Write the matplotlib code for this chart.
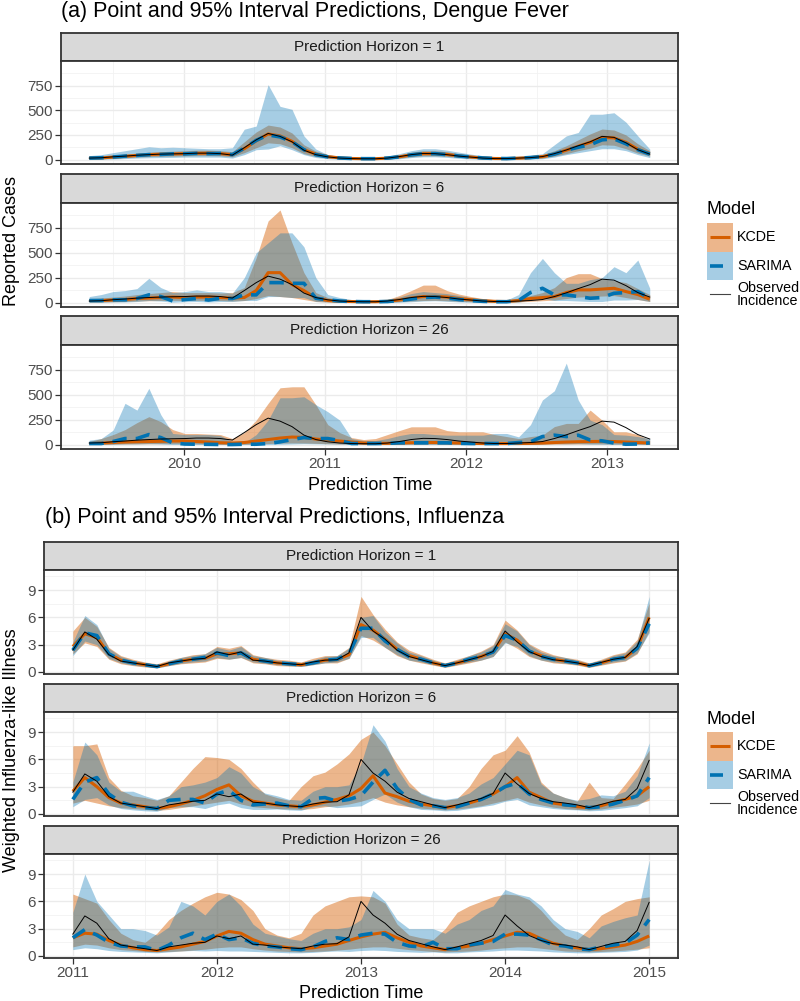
import numpy as np
import matplotlib
matplotlib.use('Agg')
import matplotlib.pyplot as plt
from matplotlib.patches import Rectangle

plt.rcParams['font.family'] = ['Liberation Sans', 'DejaVu Sans']

W, H = 800, 1001

# ---------------- dengue (about monthly, 2009.33 .. 2013.30)
dengue_obs = [15, 18, 28, 35, 44, 50, 55, 58, 60, 65, 65, 60,
              45, 120, 200, 265, 235, 180, 95, 50, 27, 15, 10, 8,
              8, 15, 30, 50, 62, 60, 50, 35, 25, 15, 10, 10,
              15, 20, 30, 60, 97, 140, 180, 235, 225, 170, 100, 55]

# horizon 1
dengue_kcde1_pt = [15, 17, 25, 33, 42, 50, 55, 57, 60, 63, 65, 60,
                   50, 110, 190, 260, 240, 185, 100, 55, 30, 17, 11, 9,
                   9, 14, 28, 48, 60, 60, 52, 37, 26, 16, 11, 10,
                   14, 20, 30, 55, 95, 135, 175, 225, 220, 175, 105, 60]
dengue_kcde1_lo = [5, 8, 12, 18, 25, 30, 33, 35, 38, 40, 40, 38,
                   28, 70, 120, 170, 160, 120, 60, 30, 15, 8, 5, 4,
                   4, 7, 15, 28, 38, 38, 32, 22, 14, 8, 5, 5,
                   7, 10, 15, 35, 60, 90, 115, 150, 145, 110, 65, 35]
dengue_kcde1_hi = [30, 32, 45, 55, 65, 75, 80, 85, 90, 95, 95, 90,
                   80, 180, 280, 350, 330, 270, 150, 85, 50, 30, 20, 17,
                   17, 25, 45, 75, 90, 90, 80, 60, 45, 30, 20, 20,
                   25, 35, 50, 90, 140, 200, 260, 310, 300, 250, 160, 90]
dengue_sarima1_pt = [15, 18, 26, 35, 42, 50, 52, 58, 58, 63, 60, 62,
                     50, 115, 195, 250, 230, 180, 100, 50, 28, 16, 11, 9,
                     9, 15, 28, 48, 60, 60, 50, 36, 26, 16, 11, 10,
                     15, 20, 30, 55, 95, 125, 150, 200, 210, 160, 100, 55]
dengue_sarima1_lo = [0, 2, 5, 10, 15, 18, 20, 22, 25, 25, 25, 25,
                     15, 50, 100, 107, 140, 100, 50, 20, 8, 2, 0, 0,
                     0, 2, 8, 20, 28, 28, 22, 12, 6, 2, 0, 0,
                     2, 5, 8, 25, 50, 70, 90, 110, 110, 90, 50, 20]
dengue_sarima1_hi = [40, 50, 70, 90, 110, 130, 120, 125, 120, 115, 110, 110,
                     120, 308, 340, 760, 540, 510, 240, 107, 50, 35, 25, 20,
                     20, 35, 60, 90, 110, 110, 95, 75, 55, 40, 28, 25,
                     35, 45, 60, 150, 240, 275, 460, 460, 475, 380, 240, 107]

# horizon 6
dengue_kcde6_pt = [20, 20, 25, 30, 40, 45, 50, 55, 50, 55, 55, 50,
                   45, 50, 120, 300, 300, 180, 120, 45, 20, 12, 10, 8,
                   8, 12, 25, 45, 60, 62, 55, 40, 28, 18, 12, 10,
                   20, 40, 50, 60, 100, 127, 127, 135, 143, 110, 80, 33]
dengue_kcde6_lo = [5, 5, 8, 10, 15, 18, 20, 22, 20, 22, 22, 20,
                   15, 20, 40, 70, 60, 50, 30, 10, 5, 3, 2, 2,
                   2, 3, 8, 15, 20, 22, 18, 12, 8, 5, 3, 3,
                   6, 12, 18, 25, 40, 55, 60, 65, 70, 50, 30, 10]
dengue_kcde6_hi = [40, 45, 55, 65, 80, 90, 100, 110, 100, 100, 100, 95,
                   100, 150, 450, 820, 930, 600, 300, 100, 50, 30, 20, 18,
                   18, 30, 70, 120, 175, 175, 120, 85, 60, 40, 28, 25,
                   45, 70, 100, 150, 250, 290, 290, 240, 220, 200, 140, 80]
dengue_sarima6_pt = [20, 20, 27, 27, 40, 77, 60, 15, 30, 40, 25, 43,
                     40, 77, 77, 200, 200, 193, 193, 43, 27, 15, 10, 8,
                     8, 10, 20, 35, 50, 55, 45, 30, 20, 12, 8, 8,
                     20, 100, 143, 77, 77, 60, 43, 50, 93, 100, 110, 43]
dengue_sarima6_lo = [2, 2, 5, 5, 10, 20, 15, 3, 8, 10, 5, 10,
                     10, 20, 20, 60, 60, 50, 50, 10, 5, 2, 0, 0,
                     0, 0, 3, 8, 15, 18, 12, 6, 3, 0, 0, 0,
                     3, 30, 40, 20, 20, 15, 10, 10, 25, 25, 30, 10]
dengue_sarima6_hi = [60, 80, 110, 120, 140, 243, 150, 100, 110, 127, 110, 110,
                     93, 250, 500, 600, 700, 700, 560, 250, 80, 50, 30, 25,
                     25, 30, 55, 90, 110, 100, 90, 70, 50, 35, 25, 25,
                     80, 300, 443, 300, 193, 193, 230, 250, 360, 300, 427, 143]

# horizon 26
dengue_kcde26_pt = [10, 15, 20, 25, 28, 30, 32, 35, 35, 30, 25, 18,
                    15, 20, 35, 50, 65, 75, 72, 55, 45, 35, 25, 15,
                    12, 12, 15, 18, 20, 20, 18, 15, 12, 10, 10, 10,
                    10, 12, 15, 20, 25, 28, 30, 32, 30, 25, 20, 15]
dengue_kcde26_lo = [0, 2, 3, 5, 6, 7, 8, 8, 8, 7, 5, 3,
                    2, 3, 6, 10, 14, 16, 15, 12, 8, 5, 3, 2,
                    1, 1, 2, 3, 4, 4, 3, 2, 1, 1, 1, 1,
                    1, 1, 2, 3, 4, 5, 6, 6, 5, 4, 3, 2]
dengue_kcde26_hi = [30, 60, 100, 150, 220, 280, 230, 150, 111, 111, 105, 100,
                    60, 120, 245, 414, 570, 580, 580, 400, 200, 120, 70, 50,
                    60, 100, 140, 178, 178, 178, 140, 128, 128, 128, 100, 80,
                    60, 80, 94, 180, 212, 212, 346, 245, 128, 128, 100, 44]
dengue_sarima26_pt = [10, 10, 30, 60, 60, 100, 70, 17, 5, 3, 2, 0,
                      0, 3, 3, 10, 27, 50, 70, 60, 60, 40, 10, 10,
                      10, 12, 17, 17, 17, 17, 17, 12, 10, 10, 10, 10,
                      20, 27, 80, 94, 80, 94, 45, 37, 15, 3, 5, 17]
dengue_sarima26_lo = [0, 0, 2, 5, 5, 8, 5, 0, 0, 0, 0, 0,
                      0, 0, 0, 0, 2, 5, 8, 6, 5, 3, 0, 0,
                      0, 0, 1, 1, 1, 1, 1, 0, 0, 0, 0, 0,
                      0, 1, 5, 8, 6, 8, 3, 2, 0, 0, 0, 0]
dengue_sarima26_hi = [44, 60, 145, 414, 346, 565, 300, 111, 100, 100, 100, 90,
                      27, 20, 100, 245, 470, 470, 480, 400, 330, 245, 60, 40,
                      40, 60, 90, 111, 111, 100, 94, 94, 94, 94, 111, 111,
                      77, 200, 448, 540, 818, 448, 245, 200, 100, 94, 80, 60]

# ---------------- influenza (monthly, 2011.0 .. 2015.0)
flu_obs = [2.4, 4.4, 3.6, 1.9, 1.2, 1.0, 0.8, 0.6, 1.0, 1.2, 1.4, 1.5,
           2.2, 1.9, 2.2, 1.3, 1.2, 1.0, 0.9, 0.8, 1.1, 1.3, 1.35, 2.1,
           6.0, 4.5, 3.6, 2.4, 1.7, 1.35, 1.0, 0.7, 1.0, 1.35, 1.7, 2.25,
           4.5, 3.3, 2.25, 1.7, 1.35, 1.2, 1.0, 0.7, 1.05, 1.4, 1.6, 2.8,
           5.9]

# horizon 1
flu_kcde1_pt = [2.8, 4.2, 3.8, 2.0, 1.3, 1.0, 0.8, 0.6, 0.9, 1.2, 1.4, 1.5,
                2.0, 2.0, 2.1, 1.4, 1.2, 1.0, 0.9, 0.8, 1.0, 1.3, 1.35, 1.9,
                5.2, 4.6, 3.6, 2.5, 1.8, 1.4, 1.0, 0.7, 1.0, 1.3, 1.7, 2.2,
                4.2, 3.5, 2.3, 1.8, 1.4, 1.2, 1.0, 0.7, 1.0, 1.4, 1.6, 2.6,
                6.0]
flu_kcde1_lo = [2.0, 3.2, 2.8, 1.4, 0.9, 0.7, 0.55, 0.45, 0.7, 0.9, 1.0, 1.1,
                1.5, 1.4, 1.6, 1.0, 0.9, 0.7, 0.65, 0.6, 0.8, 1.0, 1.0, 1.5,
                4.0, 3.5, 2.7, 1.8, 1.3, 1.0, 0.75, 0.5, 0.75, 1.0, 1.3, 1.7,
                3.3, 2.6, 1.7, 1.3, 1.0, 0.9, 0.75, 0.5, 0.75, 1.0, 1.2, 2.0,
                4.5]
flu_kcde1_hi = [4.5, 6.0, 5.0, 2.7, 1.8, 1.4, 1.1, 0.9, 1.3, 1.6, 1.9, 2.0,
                2.8, 2.6, 2.9, 1.9, 1.6, 1.4, 1.3, 1.1, 1.5, 1.8, 1.8, 2.7,
                8.3, 6.3, 4.7, 3.3, 2.4, 1.9, 1.4, 1.0, 1.4, 1.8, 2.3, 3.0,
                5.7, 4.6, 3.1, 2.4, 1.9, 1.6, 1.4, 1.0, 1.4, 1.9, 2.2, 3.6,
                7.6]
flu_sarima1_pt = [2.4, 4.3, 4.0, 2.0, 1.3, 1.0, 0.8, 0.6, 0.9, 1.2, 1.4, 1.6,
                  2.1, 1.8, 2.1, 1.4, 1.2, 1.0, 0.9, 0.8, 1.0, 1.3, 1.4, 2.0,
                  4.8, 4.8, 3.4, 2.5, 1.7, 1.4, 1.0, 0.7, 1.0, 1.4, 1.7, 2.2,
                  4.0, 3.5, 2.3, 1.7, 1.4, 1.2, 1.0, 0.7, 1.0, 1.4, 1.6, 2.6,
                  5.3]
flu_sarima1_lo = [1.8, 3.4, 3.0, 1.5, 1.0, 0.75, 0.6, 0.45, 0.7, 0.95, 1.1, 1.2,
                  1.6, 1.4, 1.6, 1.1, 0.95, 0.8, 0.7, 0.6, 0.8, 1.0, 1.1, 1.5,
                  3.8, 3.8, 2.7, 1.9, 1.3, 1.1, 0.8, 0.55, 0.8, 1.1, 1.3, 1.7,
                  3.2, 2.8, 1.8, 1.3, 1.1, 0.95, 0.8, 0.55, 0.8, 1.1, 1.25, 2.1,
                  4.3]
flu_sarima1_hi = [3.3, 6.2, 5.2, 2.6, 1.7, 1.3, 1.05, 0.8, 1.2, 1.6, 1.8, 2.0,
                  2.7, 2.4, 2.8, 1.8, 1.6, 1.3, 1.2, 1.05, 1.3, 1.7, 1.8, 2.6,
                  6.0, 6.2, 4.4, 3.2, 2.2, 1.8, 1.3, 0.95, 1.3, 1.8, 2.2, 2.9,
                  5.3, 4.5, 3.0, 2.2, 1.8, 1.6, 1.3, 0.95, 1.3, 1.8, 2.1, 3.4,
                  8.3]

# horizon 6
flu_kcde6_pt = [2.5, 4.0, 3.0, 1.8, 1.2, 1.0, 0.8, 0.6, 0.8, 1.1, 1.5, 2.0,
                2.7, 3.2, 2.0, 1.4, 1.2, 1.0, 0.9, 0.8, 1.0, 1.3, 1.6, 2.0,
                2.8, 4.2, 2.3, 1.9, 1.4, 1.1, 0.9, 0.7, 0.9, 1.2, 1.6, 2.2,
                3.0, 4.0, 2.4, 1.8, 1.2, 1.0, 0.8, 0.7, 0.9, 1.3, 1.6, 2.0,
                3.0]
flu_kcde6_lo = [1.2, 1.5, 1.2, 0.9, 0.7, 0.6, 0.5, 0.4, 0.5, 0.7, 0.9, 1.1,
                1.3, 1.5, 1.1, 0.8, 0.7, 0.6, 0.55, 0.5, 0.6, 0.8, 0.9, 1.1,
                1.4, 1.8, 1.3, 1.0, 0.8, 0.65, 0.55, 0.45, 0.55, 0.7, 0.9, 1.2,
                1.5, 1.8, 1.3, 1.0, 0.75, 0.6, 0.5, 0.45, 0.55, 0.75, 0.9, 1.1,
                1.5]
flu_kcde6_hi = [7.5, 7.5, 7.7, 4.0, 2.6, 2.0, 1.8, 1.5, 2.0, 3.5, 5.0, 6.3,
                6.2, 6.0, 5.0, 3.5, 2.2, 1.8, 1.5, 3.0, 4.2, 4.6, 5.5, 6.6,
                8.2, 9.0, 7.5, 5.5, 3.5, 2.2, 1.7, 1.5, 1.7, 3.0, 5.0, 6.5,
                7.0, 8.6, 6.8, 3.5, 2.3, 1.8, 1.4, 3.5, 1.8, 1.7, 3.3, 5.0,
                7.0]
flu_sarima6_pt = [1.6, 3.5, 4.0, 2.2, 1.3, 0.9, 0.7, 0.6, 1.5, 1.6, 1.6, 1.2,
                  2.2, 2.6, 1.5, 1.0, 1.1, 1.2, 0.9, 0.8, 1.7, 1.8, 1.4, 1.6,
                  2.0, 3.5, 4.8, 2.8, 1.6, 1.0, 0.9, 0.7, 0.8, 1.2, 1.6, 2.2,
                  3.0, 3.4, 2.2, 1.6, 1.2, 1.0, 0.9, 0.7, 0.8, 1.1, 1.5, 2.0,
                  4.0]
flu_sarima6_lo = [0.8, 1.6, 1.8, 1.0, 0.6, 0.45, 0.35, 0.3, 0.7, 0.8, 0.8, 0.6,
                  1.0, 1.2, 0.7, 0.5, 0.5, 0.55, 0.45, 0.4, 0.8, 0.9, 0.7, 0.8,
                  0.9, 1.6, 2.2, 1.3, 0.8, 0.5, 0.45, 0.35, 0.4, 0.6, 0.8, 1.0,
                  1.4, 1.6, 1.0, 0.8, 0.6, 0.5, 0.45, 0.35, 0.4, 0.55, 0.7, 0.9,
                  1.8]
flu_sarima6_hi = [3.5, 7.9, 6.5, 3.5, 2.5, 2.5, 2.0, 1.6, 2.0, 3.0, 3.2, 3.5,
                  4.0, 5.2, 4.5, 3.0, 2.3, 2.0, 1.6, 1.5, 2.5, 3.0, 3.0, 3.2,
                  5.5, 9.8, 8.0, 5.0, 3.0, 2.3, 1.8, 1.6, 1.8, 2.3, 3.3, 4.0,
                  5.5, 7.0, 6.5, 3.3, 2.3, 1.8, 1.5, 1.7, 2.1, 2.0, 2.5, 4.2,
                  7.8]

# horizon 26
flu_kcde26_pt = [2.0, 2.5, 2.4, 1.7, 1.2, 0.9, 0.7, 0.6, 0.8, 1.0, 1.3, 1.6,
                 2.2, 2.7, 2.5, 1.8, 1.3, 1.1, 0.9, 0.8, 0.9, 1.1, 1.3, 1.7,
                 2.1, 2.4, 2.6, 2.0, 1.5, 1.1, 0.9, 0.7, 0.9, 1.1, 1.4, 1.8,
                 2.2, 2.6, 2.5, 1.9, 1.4, 1.1, 0.9, 0.7, 0.8, 1.0, 1.2, 1.6,
                 2.2]
flu_kcde26_lo = [1.0, 1.3, 1.2, 0.9, 0.7, 0.6, 0.5, 0.45, 0.5, 0.55, 0.65, 0.75,
                 0.9, 1.0, 1.0, 0.8, 0.65, 0.55, 0.5, 0.45, 0.5, 0.55, 0.65, 0.75,
                 0.9, 1.0, 1.0, 0.85, 0.7, 0.6, 0.5, 0.45, 0.5, 0.55, 0.65, 0.8,
                 0.9, 1.0, 1.0, 0.85, 0.7, 0.55, 0.5, 0.45, 0.5, 0.55, 0.65, 0.75,
                 0.9]
flu_kcde26_hi = [6.8, 6.3, 5.8, 4.0, 2.5, 1.8, 1.5, 2.5, 4.0, 5.0, 5.8, 6.5,
                 7.0, 6.8, 6.2, 5.0, 3.0, 2.3, 2.0, 2.5, 4.5, 5.5, 6.0, 6.5,
                 6.6, 6.5, 5.8, 3.5, 2.3, 2.0, 1.8, 3.0, 4.8, 5.5, 6.0, 6.5,
                 6.8, 6.7, 6.2, 5.0, 3.5, 2.3, 1.8, 3.0, 4.5, 5.2, 6.0, 6.3,
                 6.5]
flu_sarima26_pt = [2.0, 2.9, 2.3, 1.5, 1.1, 1.0, 1.0, 0.6, 1.2, 2.0, 2.5, 1.8,
                   2.4, 1.8, 2.0, 1.4, 1.1, 1.0, 0.8, 0.7, 1.0, 1.6, 2.0, 1.8,
                   2.3, 2.5, 2.4, 1.5, 1.1, 1.0, 1.5, 0.8, 0.8, 1.2, 1.4, 1.6,
                   2.4, 2.4, 2.3, 1.8, 1.2, 1.1, 0.8, 0.7, 1.0, 1.2, 1.4, 2.3,
                   4.0]
flu_sarima26_lo = [0.7, 0.9, 0.8, 0.6, 0.5, 0.45, 0.4, 0.35, 0.45, 0.55, 0.6, 0.55,
                   0.6, 0.55, 0.55, 0.5, 0.45, 0.4, 0.35, 0.35, 0.4, 0.5, 0.55, 0.5,
                   0.6, 0.65, 0.6, 0.5, 0.45, 0.4, 0.45, 0.35, 0.35, 0.45, 0.5, 0.55,
                   0.65, 0.65, 0.6, 0.55, 0.45, 0.4, 0.35, 0.35, 0.4, 0.45, 0.5, 0.65,
                   1.2]
flu_sarima26_hi = [4.8, 9.0, 6.0, 4.5, 3.0, 3.0, 2.8, 2.3, 3.2, 6.0, 5.5, 4.5,
                   6.0, 6.8, 5.5, 3.5, 2.5, 2.2, 1.9, 1.7, 2.5, 3.0, 3.0, 3.2,
                   4.0, 7.2, 6.0, 4.0, 3.0, 3.0, 3.0, 2.5, 3.5, 4.0, 5.0, 5.5,
                   7.3, 6.8, 6.5, 5.5, 4.0, 3.0, 2.7, 2.0, 3.3, 3.8, 4.2, 4.5,
                   10.5]

horizons = [1, 6, 26]
dengue_time = np.linspace(2009.33, 2013.30, len(dengue_obs))
flu_time = np.linspace(2011.0, 2015.0, len(flu_obs))

KCDE_COL = '#D55E00'
SARIMA_COL = '#0072B2'
KCDE_ALPHA = 0.45
SARIMA_ALPHA = 0.35
BORDER = '#333333'


def px_axes(fig, left, top, right, bottom):
    # axes placed with pixel coordinates (origin top-left)
    return fig.add_axes([left / W, 1 - bottom / H, (right - left) / W, (bottom - top) / H])


def add_facet(fig, left, right, strip_top, top, bottom, horizon, t, obs, kcde, sarima,
              xlim, ylim, xmajor, xminor, ymajor, yminor, bottom_row):
    strip = px_axes(fig, left, strip_top, right, top)
    strip.set_facecolor('#D9D9D9')
    strip.set_xticks([])
    strip.set_yticks([])
    for s in strip.spines.values():
        s.set_color(BORDER)
        s.set_linewidth(1.3)
    strip.text(0.5, 0.5, 'Prediction Horizon = %d' % horizon, ha='center', va='center',
               fontsize=11, color='#1A1A1A', transform=strip.transAxes)

    ax = px_axes(fig, left, top, right, bottom)
    k_pt, k_lo, k_hi = kcde
    s_pt, s_lo, s_hi = sarima
    ax.fill_between(t, k_lo, k_hi, color=KCDE_COL, alpha=KCDE_ALPHA, linewidth=0)
    ax.fill_between(t, s_lo, s_hi, color=SARIMA_COL, alpha=SARIMA_ALPHA, linewidth=0)
    ax.plot(t, k_pt, color=KCDE_COL, lw=2.2, solid_capstyle='butt')
    ax.plot(t, s_pt, color=SARIMA_COL, lw=2.6, dashes=(4, 2.5))
    ax.plot(t, obs, color='black', lw=0.7)

    ax.set_xlim(*xlim)
    ax.set_ylim(*ylim)
    ax.set_xticks(xmajor)
    ax.set_xticks(xminor, minor=True)
    ax.set_yticks(ymajor)
    ax.set_yticks(yminor, minor=True)
    ax.set_axisbelow(True)
    ax.grid(which='major', color='#EBEBEB', lw=1.0)
    ax.grid(which='minor', color='#F2F2F2', lw=0.6)
    ax.tick_params(which='major', length=4, width=0.9, color=BORDER,
                   labelcolor='#4D4D4D', labelsize=11, pad=2)
    ax.tick_params(which='minor', length=0)
    ax.set_yticklabels([('%g' % v) for v in ymajor])
    if bottom_row:
        ax.set_xticklabels([str(int(v)) for v in xmajor])
    else:
        ax.tick_params(axis='x', which='major', length=0, labelbottom=False)
    for s in ax.spines.values():
        s.set_color(BORDER)
        s.set_linewidth(1.3)
    return ax


def add_legend(lax, x, title_y):
    lax.text(x, title_y, 'Model', fontsize=13, ha='left', va='center', color='black')
    key_w, key_h = 26, 28.5
    k_top = title_y + 13
    rows = [('KCDE', KCDE_COL, KCDE_ALPHA, 'solid'),
            ('SARIMA', SARIMA_COL, SARIMA_ALPHA, 'dash')]
    for i, (label, col, alpha, style) in enumerate(rows):
        y0 = k_top + i * key_h
        lax.add_patch(Rectangle((x, y0), key_w, key_h, facecolor=col, alpha=alpha, linewidth=0))
        ym = y0 + key_h / 2
        if style == 'solid':
            lax.plot([x + 3, x + key_w - 3], [ym, ym], color=col, lw=2.2, solid_capstyle='butt')
        else:
            lax.plot([x + 3, x + 16], [ym, ym], color=col, lw=2.6, solid_capstyle='butt')
        lax.text(x + key_w + 4, ym, label, fontsize=10.3, ha='left', va='center', color='black')
    ym = k_top + 2 * key_h + key_h / 2
    lax.plot([x + 3, x + key_w - 3], [ym, ym], color='#444444', lw=0.8)
    lax.text(x + key_w + 4, ym, 'Observed\nIncidence', fontsize=10.3, ha='left', va='center',
             color='black', linespacing=0.9)


fig = plt.figure(figsize=(W / 100, H / 100), dpi=100)

# ---------------- panel (a): dengue
dengue_sets = [
    (dengue_kcde1_pt, dengue_kcde1_lo, dengue_kcde1_hi),
    (dengue_kcde6_pt, dengue_kcde6_lo, dengue_kcde6_hi),
    (dengue_kcde26_pt, dengue_kcde26_lo, dengue_kcde26_hi),
]
dengue_sarima_sets = [
    (dengue_sarima1_pt, dengue_sarima1_lo, dengue_sarima1_hi),
    (dengue_sarima6_pt, dengue_sarima6_lo, dengue_sarima6_hi),
    (dengue_sarima26_pt, dengue_sarima26_lo, dengue_sarima26_hi),
]
a_rows = [(33, 61, 164), (174, 203, 307), (316, 345, 449)]
for i, h in enumerate(horizons):
    st, tp, bt = a_rows[i]
    add_facet(fig, 61, 678, st, tp, bt, h, dengue_time, dengue_obs,
              dengue_sets[i], dengue_sarima_sets[i],
              xlim=(2009.13, 2013.50), ylim=(-45, 1000),
              xmajor=[2010, 2011, 2012, 2013], xminor=[2009.5, 2010.5, 2011.5, 2012.5],
              ymajor=[0, 250, 500, 750], yminor=[125, 375, 625, 875],
              bottom_row=(i == 2))

fig.text(61 / W, 1 - 12 / H, '(a) Point and 95% Interval Predictions, Dengue Fever',
         fontsize=15.5, ha='left', va='center')
fig.text(12 / W, 1 - 241 / H, 'Reported Cases', fontsize=13, rotation=90,
         ha='center', va='center')
fig.text(370 / W, 1 - 485 / H, 'Prediction Time', fontsize=13, ha='center', va='center')

# ---------------- panel (b): influenza
flu_sets = [
    (flu_kcde1_pt, flu_kcde1_lo, flu_kcde1_hi),
    (flu_kcde6_pt, flu_kcde6_lo, flu_kcde6_hi),
    (flu_kcde26_pt, flu_kcde26_lo, flu_kcde26_hi),
]
flu_sarima_sets = [
    (flu_sarima1_pt, flu_sarima1_lo, flu_sarima1_hi),
    (flu_sarima6_pt, flu_sarima6_lo, flu_sarima6_hi),
    (flu_sarima26_pt, flu_sarima26_lo, flu_sarima26_hi),
]
b_rows = [(542, 570, 674), (684, 712, 816), (826, 854, 958)]
for i, h in enumerate(horizons):
    st, tp, bt = b_rows[i]
    add_facet(fig, 44, 678, st, tp, bt, h, flu_time, flu_obs,
              flu_sets[i], flu_sarima_sets[i],
              xlim=(2010.80, 2015.20), ylim=(-0.22, 11.2),
              xmajor=[2011, 2012, 2013, 2014, 2015],
              xminor=[2011.5, 2012.5, 2013.5, 2014.5],
              ymajor=[0, 3, 6, 9], yminor=[1.5, 4.5, 7.5, 10.5],
              bottom_row=(i == 2))

fig.text(45 / W, 1 - 518 / H, '(b) Point and 95% Interval Predictions, Influenza',
         fontsize=15.5, ha='left', va='center')
fig.text(12 / W, 1 - 750 / H, 'Weighted Influenza-like Illness', fontsize=13, rotation=90,
         ha='center', va='center')
fig.text(361 / W, 1 - 993 / H, 'Prediction Time', fontsize=13, ha='center', va='center')

# ---------------- legends (pixel overlay)
lax = fig.add_axes([0, 0, 1, 1])
lax.set_xlim(0, W)
lax.set_ylim(H, 0)
lax.axis('off')
add_legend(lax, 707, 210)
add_legend(lax, 707, 719)

fig.savefig('out.png', dpi=100)
